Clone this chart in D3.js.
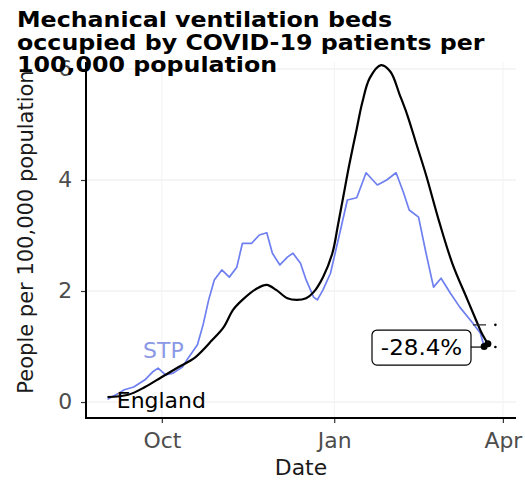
<!DOCTYPE html>
<html>
<head>
<meta charset="utf-8">
<script src="https://cdn.jsdelivr.net/npm/d3@7"></script>
<style>
  html, body { margin: 0; padding: 0; background: #ffffff; }
  svg { display: block; }
</style>
</head>
<body>
<svg id="chart" width="525" height="482"></svg>
<script>
// ---------------- data ----------------
const titleLines = ["Mechanical ventilation beds", "occupied by COVID-19 patients per", "100,000 population"];
const yAxisTitle = "People per 100,000 population";
const xAxisTitle = "Date";

const englandDates = ["2020-09-02","2020-09-13","2020-09-22","2020-10-01","2020-10-10","2020-10-19","2020-10-28",
  "2020-11-03","2020-11-08","2020-11-13","2020-11-21","2020-11-26","2020-12-01","2020-12-07","2020-12-12",
  "2020-12-17","2020-12-21","2020-12-26","2020-12-31","2021-01-03","2021-01-06","2021-01-09","2021-01-13",
  "2021-01-16","2021-01-20","2021-01-26","2021-01-31","2021-02-05","2021-02-09","2021-02-14","2021-02-19",
  "2021-02-26","2021-03-05","2021-03-13","2021-03-18","2021-03-21","2021-03-24"];
const englandValues = [0.09,0.13,0.27,0.45,0.63,0.81,1.12,
  1.35,1.66,1.84,2.05,2.11,2.02,1.87,1.84,
  1.87,1.98,2.25,2.68,3.19,3.73,4.27,4.92,
  5.40,5.84,6.07,5.95,5.53,5.17,4.63,4.09,
  3.25,2.50,1.85,1.45,1.22,1.05];

const stpDates = ["2020-09-02","2020-09-08","2020-09-11","2020-09-16","2020-09-22","2020-09-26","2020-09-29",
  "2020-10-03","2020-10-07","2020-10-12","2020-10-15","2020-10-20","2020-10-23","2020-10-26","2020-10-29",
  "2020-11-02","2020-11-06","2020-11-10","2020-11-13","2020-11-18","2020-11-22","2020-11-26","2020-11-29",
  "2020-12-03","2020-12-07","2020-12-10","2020-12-14","2020-12-17","2020-12-21","2020-12-23","2020-12-26",
  "2020-12-30","2021-01-04","2021-01-08","2021-01-13","2021-01-18","2021-01-24","2021-01-29","2021-02-03",
  "2021-02-07","2021-02-10","2021-02-15","2021-02-19","2021-02-23","2021-02-27","2021-03-04","2021-03-09",
  "2021-03-16","2021-03-20","2021-03-22"];
const stpValues = [0.05,0.16,0.22,0.27,0.40,0.54,0.61,
  0.49,0.52,0.63,0.79,1.03,1.39,1.84,2.20,
  2.38,2.25,2.43,2.86,2.86,3.01,3.05,2.68,
  2.47,2.61,2.68,2.50,2.20,1.89,1.84,2.02,
  2.32,3.05,3.64,3.68,4.13,3.91,4.00,4.13,
  3.77,3.46,3.33,2.68,2.07,2.23,1.96,1.71,
  1.42,1.24,1.00];

const yTicks = [0, 2, 4, 6];
const xTickDates = ["2020-10-01", "2021-01-01", "2021-04-01"];
const xTickLabels = ["Oct", "Jan", "Apr"];

const seriesNames = ["STP", "England"];
const changeLabel = "-28.4%";
const weekAgoDate = "2021-03-16";
const latestDate = "2021-03-23";
const markerDate = "2021-03-28";
const weekAgoValue = 1.39;
const latestValue = 0.99;

// ---------------- drawing ----------------
const parse = d3.utcParse("%Y-%m-%d");
const svg = d3.select("#chart");
const FONT = "DejaVu Sans";
const SX = 1.07;      // horizontal glyph stretch of the reference
const SXT = 1.13;

const x = d3.scaleUtc()
  .domain([parse("2020-08-21"), parse("2021-04-08")])
  .range([85, 516]);
const y = d3.scaleLinear()
  .domain([-0.288, 6.126])
  .range([418, 62]);

// grid
const grid = svg.append("g");
grid.selectAll("line.h").data(yTicks).join("line")
  .attr("x1", 86).attr("x2", 516)
  .attr("y1", d => y(d)).attr("y2", d => y(d))
  .attr("stroke", "#ebebeb").attr("stroke-width", 1);
grid.selectAll("line.v").data(xTickDates).join("line")
  .attr("x1", d => x(parse(d))).attr("x2", d => x(parse(d)))
  .attr("y1", 62).attr("y2", 418)
  .attr("stroke", "#f2f2f2").attr("stroke-width", 1);

// axes
const yAxis = svg.append("g").attr("transform", "translate(86,0)")
  .call(d3.axisLeft(y).tickValues(yTicks).tickFormat(d3.format("d"))
    .tickSize(5).tickPadding(8).tickSizeOuter(0));
yAxis.select(".domain").remove();
yAxis.selectAll(".tick line").attr("stroke", "#333333").attr("stroke-width", 1.2);
yAxis.selectAll(".tick text")
  .attr("font-family", FONT).attr("font-size", 20.5).attr("fill", "#4d4d4d")
  .attr("transform", `scale(${SX},1)`);

const xAxis = svg.append("g").attr("transform", "translate(0,418)")
  .call(d3.axisBottom(x).tickValues(xTickDates.map(parse)).tickFormat((d, i) => xTickLabels[i])
    .tickSize(5).tickPadding(10).tickSizeOuter(0));
xAxis.select(".domain").remove();
xAxis.selectAll(".tick line").attr("stroke", "#333333").attr("stroke-width", 1.2);
xAxis.selectAll(".tick text")
  .attr("font-family", FONT).attr("font-size", 20.5).attr("fill", "#4d4d4d")
  .attr("transform", `scale(${SX},1)`);

svg.append("line").attr("x1", 86).attr("x2", 86).attr("y1", 62).attr("y2", 419)
  .attr("stroke", "#000").attr("stroke-width", 2);
svg.append("line").attr("x1", 85).attr("x2", 516).attr("y1", 418).attr("y2", 418)
  .attr("stroke", "#000").attr("stroke-width", 2);

// lines
const stpLine = d3.line().x(d => x(d.date)).y(d => y(d.value)).curve(d3.curveLinear);
const engLine = d3.line().x(d => x(d.date)).y(d => y(d.value)).curve(d3.curveCatmullRom.alpha(0.5));
const stp = stpDates.map((d, i) => ({ date: parse(d), value: stpValues[i] }));
const eng = englandDates.map((d, i) => ({ date: parse(d), value: englandValues[i] }));

svg.append("path").datum(stp).attr("d", stpLine)
  .attr("fill", "none").attr("stroke", "#6e7ff0").attr("stroke-width", 1.7)
  .attr("stroke-linejoin", "round");
svg.append("path").datum(eng).attr("d", engLine)
  .attr("fill", "none").attr("stroke", "#000000").attr("stroke-width", 2.2)
  .attr("stroke-linejoin", "round");

// change markers
svg.append("line")
  .attr("x1", x(parse(weekAgoDate))).attr("x2", x(parse(latestDate)))
  .attr("y1", y(weekAgoValue)).attr("y2", y(weekAgoValue))
  .attr("stroke", "#222").attr("stroke-width", 1.2);
svg.selectAll("circle.end").data([eng[eng.length - 1], stp[stp.length - 1]]).join("circle")
  .attr("cx", d => x(d.date)).attr("cy", d => y(d.value)).attr("r", 3.5).attr("fill", "#000");
svg.selectAll("circle.mk").data([weekAgoValue, latestValue]).join("circle")
  .attr("cx", x(parse(markerDate))).attr("cy", d => y(d)).attr("r", 1.3).attr("fill", "#000");

// helper for stretched text
function label(str, px, py, opts) {
  const g = svg.append("g").attr("transform", `translate(${px},${py}) scale(${opts.sx || SX},1)`);
  return g.append("text").text(str)
    .attr("font-family", FONT)
    .attr("font-size", opts.size || 20.5)
    .attr("font-weight", opts.weight || "normal")
    .attr("fill", opts.fill || "#000")
    .attr("text-anchor", opts.anchor || "start");
}

// change label box
const boxRight = 471, boxLeft = 372;
svg.append("line").attr("x1", boxRight).attr("x2", x(parse(latestDate)) - 2)
  .attr("y1", y(latestValue)).attr("y2", y(latestValue))
  .attr("stroke", "#000").attr("stroke-width", 1.2);
svg.append("rect").attr("x", boxLeft).attr("y", y(latestValue) - 17)
  .attr("width", boxRight - boxLeft).attr("height", 35).attr("rx", 5)
  .attr("fill", "#fff").attr("stroke", "#000").attr("stroke-width", 1.2);
label(changeLabel, (boxLeft + boxRight) / 2, y(latestValue) + 8, { size: 21.5, anchor: "middle" });

// series labels
label(seriesNames[0], x(parse("2020-09-21")), y(0.79), { fill: "#8a98e6" });
label(seriesNames[1], x(parse("2020-09-07")), y(-0.11), { fill: "#000" });

// axis titles
label(xAxisTitle, 301, 475, { anchor: "middle", fill: "#1a1a1a" });
svg.append("text").text(yAxisTitle)
  .attr("transform", "translate(33,232) rotate(-90)")
  .attr("text-anchor", "middle")
  .attr("font-family", FONT).attr("font-size", 21).attr("fill", "#1a1a1a");

// title
titleLines.forEach((t, i) => {
  label(t, 17, 27 + i * 22.5, { size: 21, weight: "bold", sx: SXT });
});
</script>
</body>
</html>
